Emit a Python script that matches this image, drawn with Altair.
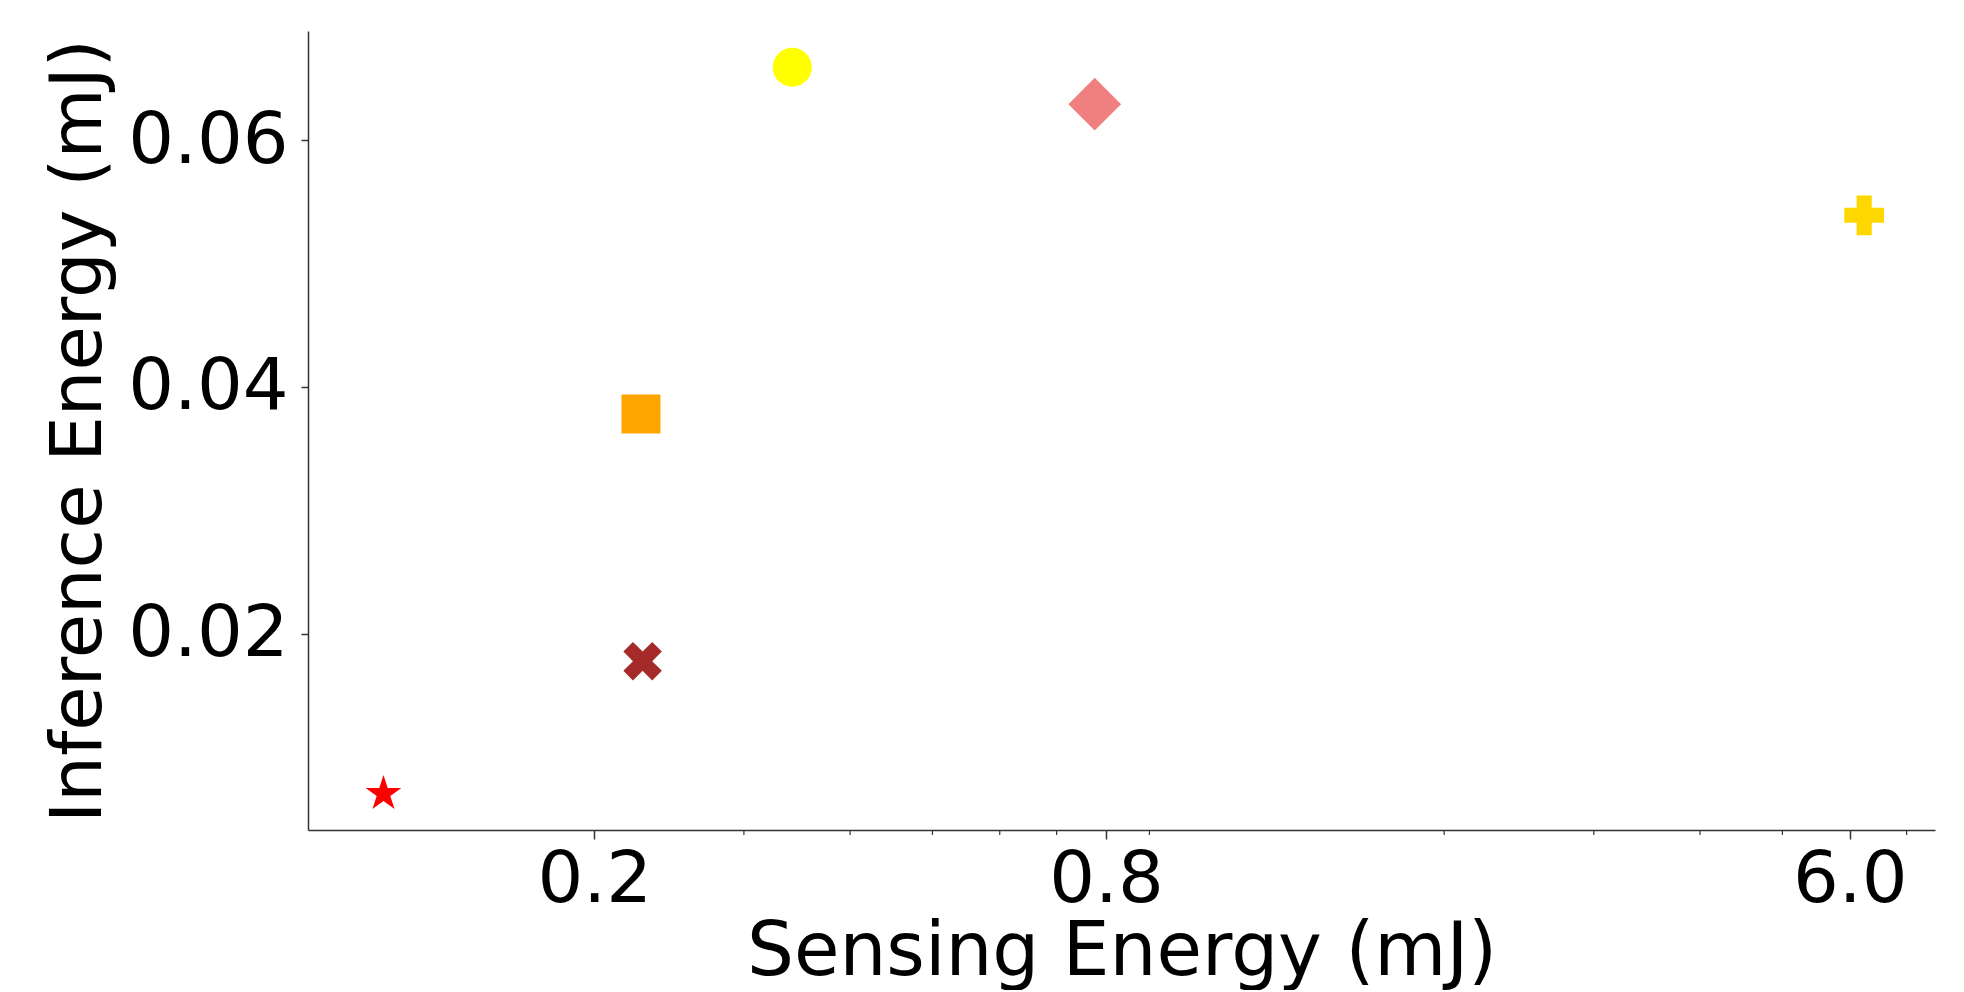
import math
import altair as alt
import pandas as pd

# ---- data ----
models = ["M1", "M2", "M3", "M4", "M5", "M6"]
sensing_energy = [0.113, 0.228, 0.227, 0.342, 0.776, 6.24]
inference_energy = [0.00704, 0.01778, 0.0378, 0.0659, 0.0629, 0.0539]
x_tick_values = [0.2, 0.8, 6.0]
x_minor_ticks = [0.3, 0.4, 0.5, 0.6, 0.7, 0.9, 2.0, 3.0, 4.0, 5.0, 7.0]
y_tick_values = [0.02, 0.04, 0.06]

# ---- styles ----
def star_path(inner=0.382):
    pts = []
    for k in range(10):
        ang = math.radians(-90 + 36 * k)
        r = 1.0 if k % 2 == 0 else inner
        pts.append(f"{r*math.cos(ang):.4f},{r*math.sin(ang):.4f}")
    return "M" + " L".join(pts) + " Z"

X_PATH = ("M-1,-0.5 L-0.5,-1 L0,-0.5 L0.5,-1 L1,-0.5 L0.5,0 L1,0.5 L0.5,1 "
          "L0,0.5 L-0.5,1 L-1,0.5 L-0.5,0 Z")
a = 0.38
PLUS_PATH = (f"M-1,-{a} L-{a},-{a} L-{a},-1 L{a},-1 L{a},-{a} L1,-{a} L1,{a} "
             f"L{a},{a} L{a},1 L-{a},1 L-{a},{a} L-1,{a} Z")
DIAMOND_PATH = "M0,-1 L1,0 L0,1 L-1,0 Z"

shapes = [star_path(), X_PATH, "square", "circle", DIAMOND_PATH, PLUS_PATH]
colors = ["#ff0000", "#a52a2a", "#ffa500", "#ffff00", "#f08080", "#ffd700"]
sizes = [1409, 1482, 1521, 1521, 2777, 1576]

W, H = 1627, 799
FONT = "DejaVu Sans"
FS = 72

df = pd.DataFrame({"model": models, "sensing": sensing_energy,
                   "inference": inference_energy})
minor_df = pd.DataFrame({"t": x_minor_ticks})

xscale = alt.Scale(type="log", domain=[0.0921, 7.56], nice=False)
yscale = alt.Scale(domain=[0.00411, 0.06883], nice=False, zero=False)

points = alt.Chart(df).mark_point(filled=True, opacity=1, strokeWidth=0).encode(
    x=alt.X("sensing:Q", scale=xscale,
            axis=alt.Axis(values=x_tick_values, format=".1f", title="Sensing Energy (mJ)",
                          labelFontSize=FS, titleFontSize=74, labelFont=FONT, titleFont=FONT,
                          titleFontWeight="normal", labelColor="black", titleColor="black",
                          tickSize=9, tickWidth=1.5, tickColor="#333", labelPadding=5,
                          titlePadding=1, domainColor="#333", domainWidth=1.5, grid=False,
                          labelFlush=False, labelOverlap=False)),
    y=alt.Y("inference:Q", scale=yscale,
            axis=alt.Axis(values=y_tick_values, format=".2f", title="Inference Energy (mJ)",
                          labelFontSize=FS, titleFontSize=FS, labelFont=FONT, titleFont=FONT,
                          titleFontWeight="normal", labelColor="black", titleColor="black",
                          tickSize=7, tickWidth=1.5, tickColor="#333", labelPadding=13,
                          titlePadding=12, domainColor="#333", domainWidth=1.5, grid=False,
                          labelFlush=False, labelOverlap=False)),
    shape=alt.Shape("model:N", scale=alt.Scale(domain=models, range=shapes), legend=None),
    color=alt.Color("model:N", scale=alt.Scale(domain=models, range=colors), legend=None),
    size=alt.Size("model:N", scale=alt.Scale(type="ordinal", domain=models, range=sizes),
                  legend=None),
)

minor = alt.Chart(minor_df).mark_rule(color="#333", strokeWidth=1.2).encode(
    x=alt.X("t:Q", scale=xscale),
    y=alt.value(H),
    y2=alt.value(H + 5),
)

chart = alt.layer(points, minor).properties(
    width=W, height=H,
    autosize=alt.AutoSizeParams(type="none"),
    padding={"left": 300, "top": 23, "right": 10, "bottom": 160},
).configure(background="white").configure_view(stroke=None, strokeWidth=0)

chart.save("out.html", embed_options={"renderer": "svg", "actions": False})
